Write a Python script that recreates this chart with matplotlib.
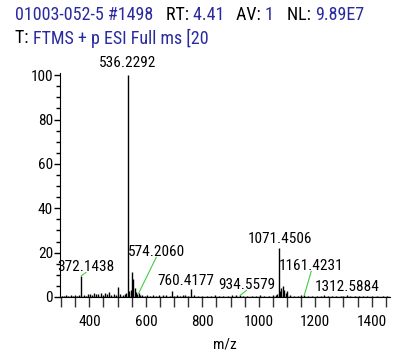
import matplotlib
matplotlib.use("Agg")
import matplotlib.pyplot as plt
from matplotlib.ticker import MultipleLocator

plt.rcParams['font.family'] = ['Roboto Condensed', 'Archivo Narrow', 'DejaVu Sans']

# datos del espectro (m/z, intensidad relativa)
mz = [302, 310, 318, 326, 335, 342, 350, 356, 363, 372.1438, 380, 388, 396, 404, 411, 418, 425,
      432, 440, 447, 455, 462, 470, 478, 486, 494, 503, 510, 518, 526, 530, 536.2292, 541, 546,
      551, 556, 560, 565, 570, 574.2060, 580, 588, 596, 605, 615, 625, 636, 648, 660, 672, 684,
      692, 700, 710, 720, 730, 740, 750, 760.4177, 770, 785, 800, 815, 830, 845, 860, 875, 890,
      905, 920, 934.5579, 945, 960, 975, 990, 1005, 1020, 1035, 1050, 1060, 1066, 1071.4506,
      1076, 1080, 1085, 1090, 1095, 1101, 1110, 1125, 1140, 1150, 1161.4231, 1175, 1190, 1205,
      1220, 1230, 1245, 1260, 1275, 1290, 1300, 1312.5884, 1325, 1340, 1355, 1370, 1385, 1400,
      1420, 1440, 1455]
inten = [0.6, 0.4, 0.8, 0.5, 0.7, 0.4, 0.9, 0.6, 1.0, 9.6, 0.8, 0.6, 1.2, 1.5, 1.0, 1.9, 1.2,
         1.4, 2.0, 1.0, 1.6, 1.3, 2.2, 1.1, 1.4, 1.0, 4.6, 1.3, 0.9, 1.2, 2.0, 100, 2.5, 3.0,
         11.4, 8.2, 4.0, 2.2, 1.4, 1.6, 1.0, 0.8, 0.6, 0.9, 0.5, 0.8, 0.6, 1.0, 0.7, 0.9, 0.6,
         2.7, 0.6, 0.8, 0.5, 0.9, 0.7, 0.6, 3.6, 0.8, 0.5, 0.6, 0.4, 0.5, 0.7, 0.4, 0.6, 0.5,
         0.7, 0.9, 0.8, 0.5, 0.6, 0.4, 0.5, 0.7, 0.6, 0.5, 0.7, 1.0, 1.4, 22.0,
         2.5, 4.2, 5.0, 3.2, 2.0, 2.6, 0.8, 0.6, 0.5, 0.7, 0.8, 0.5, 0.6, 0.4,
         0.6, 1.0, 0.5, 0.4, 0.6, 0.5, 0.4, 0.7, 0.4, 0.3, 0.5, 0.4, 0.3, 0.4,
         0.3, 0.4, 0.3]

# etiquetas de picos: texto, posicion del texto (centro, linea base), con/sin linea guia
etiquetas = ["536.2292", "372.1438", "574.2060", "760.4177", "934.5579", "1071.4506", "1161.4231", "1312.5884"]
pos_label = [(537, 103.5), (388, 11.7), (637, 18.5), (743, 5.4), (957, 3.6), (1076, 24.3), (1186, 12.2), (1315, 2.7)]
guia = [False, True, True, False, True, False, True, False]

fig = plt.figure(figsize=(3.93, 3.56), dpi=100)
ax = fig.add_axes([60/393, 1 - 297/356, 330/393, 224/356])

ax.vlines(mz, 0, inten, color="black", linewidth=1)
ax.axhline(0, color="black", linewidth=1)

for txt, (x, y), g in zip(etiquetas, pos_label, guia):
    xp = float(txt)
    yp = inten[mz.index(xp)]
    if g:
        ax.plot([xp, x], [yp, y - 0.6], color="#44cc44", linewidth=0.8)
    ax.text(x, y, txt, ha="center", va="baseline", fontsize=11)

ax.set_xlim(296, 1465)
ax.set_ylim(0, 101)
ax.xaxis.set_major_locator(MultipleLocator(200))
ax.xaxis.set_minor_locator(MultipleLocator(50))
ax.yaxis.set_major_locator(MultipleLocator(20))
ax.yaxis.set_minor_locator(MultipleLocator(5))
ax.tick_params(axis="x", which="both", length=7, width=1, labelsize=11, pad=6, color="#333333")
ax.tick_params(axis="y", which="major", length=4, width=1, labelsize=11, pad=1)
ax.tick_params(axis="y", which="minor", length=3, width=1)
for s in ["top", "right"]:
    ax.spines[s].set_visible(False)
ax.set_xlabel("m/z", fontsize=11, labelpad=6)
ax.set_xticks([400, 600, 800, 1000, 1200, 1400])

# encabezado con colores mezclados
azul = "#2a2aa0"
linea1 = [("01003-052-5 #1498   ", azul), ("RT: ", "black"), ("4.41   ", azul),
          ("AV: ", "black"), ("1   ", azul), ("NL: ", "black"), ("9.89E7", azul)]
linea2 = [("T: ", "black"), ("FTMS + p ESI Full ms [20", azul)]
fig.canvas.draw()
r = fig.canvas.get_renderer()
for partes, ypix in [(linea1, 15), (linea2, 38)]:
    xpix = 15
    for t, c in partes:
        h = fig.text(xpix / 393, 1 - ypix / 356, t, color=c, fontsize=13, va="center", ha="left")
        xpix += h.get_window_extent(r).width

fig.savefig("out.png", dpi=100)
